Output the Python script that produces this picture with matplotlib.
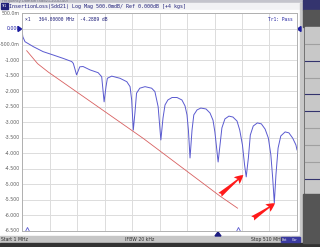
import matplotlib
matplotlib.use("Agg")
import matplotlib.pyplot as plt
from matplotlib.patches import Rectangle, Polygon

# data (MHz, dB)
freq_sdd21 = [1, 2.5, 6.6, 22, 40, 59, 77.5, 93, 96, 102, 108, 114, 127, 142, 148.5, 153,
              156.5, 159, 167, 182.4, 195, 201, 204, 207, 210, 213, 219, 228.7, 241, 247,
              253, 258,
              262, 265.7, 271, 278.7, 288, 297, 302.7, 306.4, 309, 312,
              315.7, 319, 325, 332, 341.6, 349, 354.5, 358, 361.6, 364,
              367.5, 371, 376.6, 384, 391.4, 399, 404, 409, 413, 416,
              420, 423.6, 429, 436.6, 444, 451, 457, 461.6, 465, 468,
              471, 475, 480, 488, 495, 502, 508, 510]
loss_sdd21 = [-0.03, -0.25, -0.41, -0.57, -0.73, -0.84, -0.95, -1.05, -1.11, -1.48, -1.22,
              -1.21, -1.32, -1.41, -1.54, -2.35, -1.86, -1.59, -1.52, -1.59, -1.70, -1.86,
              -2.29, -3.26, -2.71, -2.07, -1.91, -1.86, -1.91, -2.02, -2.51, -3.58,
              -2.87, -2.45, -2.29, -2.21, -2.21, -2.29, -2.48, -2.77, -3.26, -4.16,
              -3.26, -2.77, -2.61, -2.55, -2.58, -2.71, -2.94, -3.32, -3.90, -4.29,
              -3.74, -3.19, -2.90, -2.81, -2.84, -2.97, -3.26, -3.74, -4.39, -4.77,
              -4.16, -3.42, -3.13, -3.03, -3.06, -3.23, -3.52, -4.06, -4.81, -5.61,
              -4.71, -3.84, -3.45, -3.32, -3.35, -3.52, -3.74, -3.90]

freq_limit = [9.7, 30, 49.7, 225.5, 367.5, 400]
loss_limit = [-0.70, -1.12, -1.39, -3.53, -5.39, -5.78]

ytick_vals = [0.5, 0.0, -0.5, -1.0, -1.5, -2.0, -2.5, -3.0, -3.5, -4.0, -4.5, -5.0, -5.5, -6.0, -6.5]
ytick_text = ["500.0m", "0.000", "-500.0m", "-1.000", "-1.500", "-2.000", "-2.500", "-3.000",
              "-3.500", "-4.000", "-4.500", "-5.000", "-5.500", "-6.000", "-6.500"]

W, H = 320, 247
fig = plt.figure(figsize=(W / 100, H / 100), dpi=100)

# screen chrome drawn in pixel coords
bg = fig.add_axes([0, 0, 1, 1])
bg.set_xlim(0, W)
bg.set_ylim(H, 0)
bg.axis("off")
bg.add_patch(Rectangle((0, 0), W, H, color="#4a4a4a"))
bg.add_patch(Rectangle((0, 0), 302, 3, color="#c4c4cc"))
bg.add_patch(Rectangle((0, 3), 302, 7, color="#f2f2f4"))
bg.add_patch(Rectangle((0, 10), 300, 226, color="white"))
bg.add_patch(Rectangle((300, 3), 3, 236, color="#c8c8c8"))
bg.add_patch(Rectangle((0, 236), 303, 7, color="#c6c6c6"))
bg.add_patch(Rectangle((0, 243), W, 4, color="#333333"))
# right soft-key panel
bg.add_patch(Rectangle((303, 0), 17, 10, color="#34346e"))
bg.add_patch(Rectangle((303, 10), 17, 17, color="#555555"))
bg.add_patch(Rectangle((305, 27), 15, 166, color="#c8c8c8"))
for yy in [44, 61, 78, 94, 111, 128, 145, 162, 179]:
    bg.plot([305, 320], [yy, yy], color="#34346e" if yy in (61, 94, 111, 179) else "#a0a0a0",
            lw=0.8)
bg.add_patch(Rectangle((303, 194), 17, 49, color="#555555"))

bg.add_patch(Rectangle((0.5, 3.5), 7, 5.5, color="#20207a"))
bg.text(1.2, 6.3, "Tr1", fontsize=2.6, color="white", va="center")
bg.text(9, 6.3, "InsertionLoss(Sdd21) Log Mag 500.0mdB/ Ref 0.000dB [+4 kgs]",
        fontsize=3.6, color="#20207a", va="center", family="DejaVu Sans Mono")
bg.text(2, 1.3, "Frequency Domain (Sdd21,20,ID,40)", fontsize=2.6, color="#707080",
        va="center")

# status bar
bg.text(1, 239.7, "Start 1 MHz", fontsize=3.3, color="#303030", va="center")
bg.text(125, 239.7, "IFBW 20 kHz", fontsize=3.3, color="#303030", va="center")
bg.text(251, 239.7, "Stop 510 MHz", fontsize=3.3, color="#303030", va="center")
bg.add_patch(Rectangle((281, 237), 9, 5, color="#3a3aa0"))
bg.add_patch(Rectangle((291, 237), 9, 5, color="#3a3aa0"))
bg.text(282, 239.7, "Ext", fontsize=2.4, color="white", va="center")
bg.text(292, 239.7, "Cor", fontsize=2.4, color="white", va="center")

# reference level pointers and marker 1 pointer
bg.add_patch(Polygon([[18, 26.5], [18, 31.5], [21.5, 29]], color="#1c1ca0"))
bg.add_patch(Polygon([[301, 26.5], [301, 31.5], [297.5, 29]], color="#1c1ca0"))
bg.add_patch(Polygon([[215, 236], [221, 236], [218, 232]], color="#1c1c80"))

# y labels left of the grid
for v, t in zip(ytick_vals, ytick_text):
    yp = 29 - 31 * v
    bg.text(20, yp, t, fontsize=3.4, color="#1c1ca0" if v == 0 else "#606060",
            ha="right", va="center")

ax = fig.add_axes([22 / W, (H - 230.5) / H, 275 / W, 217 / H])
ax.set_xlim(1, 510)
ax.set_ylim(-6.5, 0.5)
ax.set_facecolor("none")
ax.set_xticks([1 + 50.9 * i for i in range(11)])
ax.set_yticks(ytick_vals)
ax.grid(True, color="#dcdcdc", lw=0.7)
ax.tick_params(length=0, labelleft=False, labelbottom=False)
for s in ax.spines.values():
    s.set_color("#b0b0b0")
    s.set_linewidth(0.7)

ax.plot(freq_limit, loss_limit, color="#d86060", lw=0.6)
ax.plot(freq_sdd21, loss_sdd21, color="#5a5ad0", lw=0.7)

ax.plot([10, 401], [-6.44, -6.44], ls="none", marker="^", ms=3, mfc="white",
        mec="#5a5ad0", mew=0.6)

ax.text(0.01, 0.985, "\u00d71   364.00000 MHz  -4.2889 dB", transform=ax.transAxes,
        fontsize=3.3, color="#20207a", va="top", family="DejaVu Sans Mono")
ax.text(0.985, 0.985, "Tr1: Pass", transform=ax.transAxes, fontsize=3.3,
        color="#2020a0", va="top", ha="right", family="DejaVu Sans Mono")

for tail, head in [((367.5, -5.35), (410.6, -4.71)), ((428, -6.11), (469.3, -5.62))]:
    ax.annotate("", xy=head, xytext=tail,
                arrowprops=dict(arrowstyle="fancy,head_length=0.7,head_width=0.7,tail_width=0.4",
                                color="#ff1a1a", lw=0, mutation_scale=9,
                                shrinkA=0, shrinkB=0))

fig.savefig("out.png", dpi=100)
